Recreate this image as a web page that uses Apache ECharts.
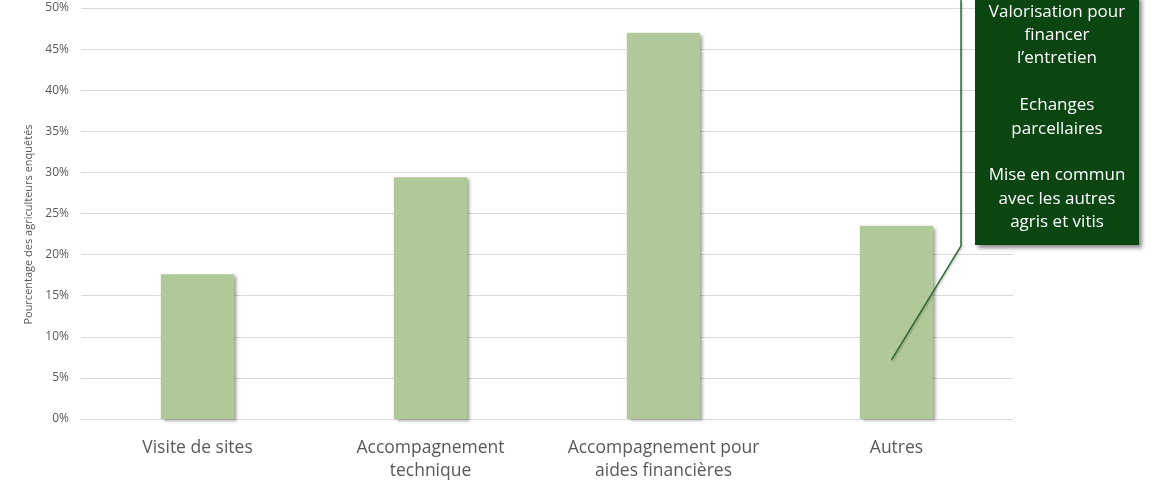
<!DOCTYPE html>
<html><head><meta charset="utf-8">
<script src="https://cdn.jsdelivr.net/npm/echarts@6/dist/echarts.min.js"></script>
<style>html,body{margin:0;padding:0;background:#fff}#c{width:1152px;height:491px}</style>
</head><body><div id="c"></div>
<script>
var categories = ['Visite de sites', 'Accompagnement\ntechnique', 'Accompagnement pour\naides financières', 'Autres'];
var values = [17.6, 29.4, 47.0, 23.5];
var yTicks = [0, 5, 10, 15, 20, 25, 30, 35, 40, 45, 50];
var axisTitle = 'Pourcentage des agriculteurs enquêtés';
var noteLines = ['Valorisation pour', 'financer', 'l\u2019entretien', '', 'Echanges', 'parcellaires', '', 'Mise en commun', 'avec les autres', 'agris et vitis'];
var noteCategory = 'Autres';
var noteValue = 7.2;

var FONT = '"Open Sans", Lato, sans-serif';
var chart = echarts.init(document.getElementById('c'), null, {renderer: 'canvas'});
chart.setOption({
  animation: false,
  grid: {left: 81, right: 139, top: 8, bottom: 72, containLabel: false},
  xAxis: {
    type: 'category', data: categories,
    axisLine: {lineStyle: {color: '#d9d9d9'}},
    axisTick: {show: false},
    axisLabel: {color: '#595959', fontSize: 17.5, fontFamily: FONT, margin: 18, lineHeight: 23, interval: 0}
  },
  yAxis: {
    type: 'value', min: yTicks[0], max: yTicks[yTicks.length - 1], interval: 5,
    name: axisTitle, nameLocation: 'middle', nameGap: 47, nameRotate: 90,
    nameTextStyle: {color: '#595959', fontSize: 11, fontFamily: FONT, padding: [0, 22, 0, 0]},
    axisLine: {show: false}, axisTick: {show: false},
    axisLabel: {color: '#595959', fontSize: 12, fontFamily: FONT, margin: 12, formatter: '{value}%'},
    splitLine: {lineStyle: {color: '#d9d9d9', width: 1}}
  },
  series: [{
    type: 'bar', data: values, barWidth: '31.5%',
    itemStyle: {color: '#b1c899', shadowColor: 'rgba(0,0,0,0.35)', shadowBlur: 3, shadowOffsetX: 3, shadowOffsetY: 2}
  }]
});

var p = chart.convertToPixel({seriesIndex: 0}, [noteCategory, noteValue]);
var boxX = 975, boxW = 164, boxTop = -4, boxBottom = 245;
var lineX = 961, lineTopY = 0, lineBotY = 246;
var graphics = [
  {type: 'polyline', z: 100, shape: {points: [[p[0] - 5, p[1]], [lineX, lineBotY], [lineX, lineTopY]]},
   style: {stroke: '#2f6b37', lineWidth: 1.5, fill: null, shadowColor: 'rgba(0,0,0,0.25)', shadowBlur: 2, shadowOffsetX: 1, shadowOffsetY: 1}},
  {type: 'rect', z: 100, shape: {x: boxX, y: boxTop, width: boxW, height: boxBottom - boxTop},
   style: {fill: '#0b4612', shadowColor: 'rgba(0,0,0,0.45)', shadowBlur: 4, shadowOffsetX: 3, shadowOffsetY: 3}},
  {type: 'text', z: 101, x: boxX + boxW / 2, y: 0,
   style: {text: noteLines.join('\n'), fill: '#ffffff', font: '17px ' + FONT, align: 'center', verticalAlign: 'top', lineHeight: 23.4}}
];
chart.setOption({graphic: graphics});
</script></body></html>
